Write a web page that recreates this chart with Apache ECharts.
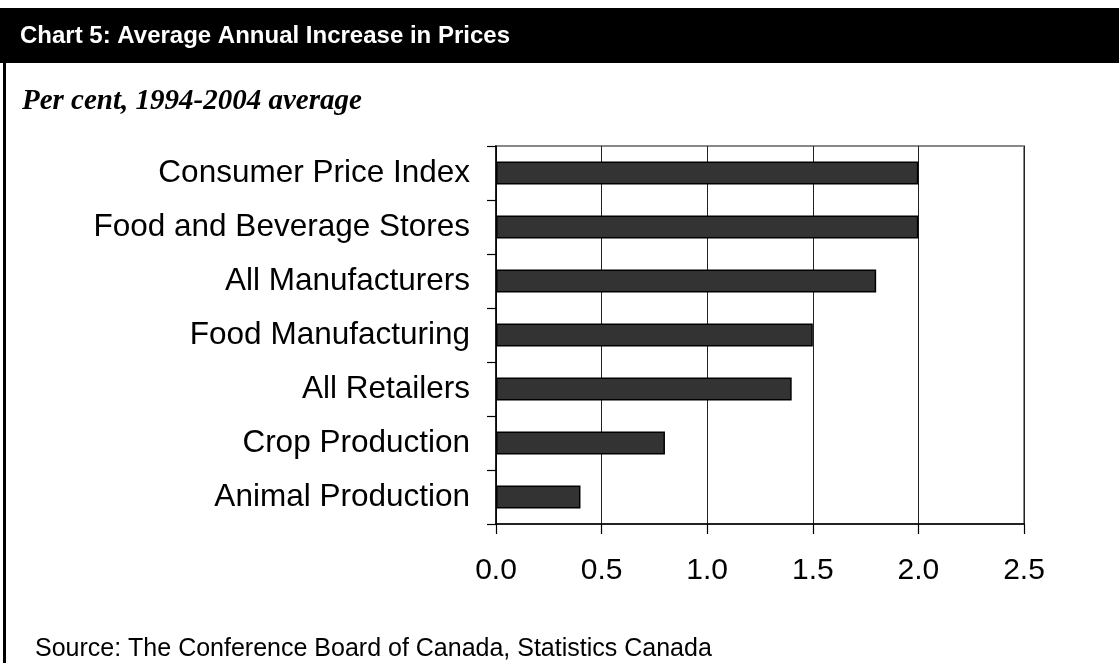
<!DOCTYPE html>
<html>
<head>
<meta charset="utf-8">
<script src="https://cdn.jsdelivr.net/npm/echarts@6/dist/echarts.min.js"></script>
<style>
  html, body { margin: 0; padding: 0; background: #fff; }
  #chart { width: 1119px; height: 663px; }
</style>
</head>
<body>
<div id="chart"></div>
<script>
// Average annual price increase, per cent, 1994-2004
const categories = [
  'Consumer Price Index',
  'Food and Beverage Stores',
  'All Manufacturers',
  'Food Manufacturing',
  'All Retailers',
  'Crop Production',
  'Animal Production'
];
const values = [2.0, 2.0, 1.8, 1.5, 1.4, 0.8, 0.4];
const axisMin = 0;
const axisMax = 2.5;
const axisStep = 0.5;

const chart = echarts.init(document.getElementById('chart'), null, { renderer: 'canvas' });

chart.setOption({
  backgroundColor: '#ffffff',
  animation: false,
  graphic: [
    // title band
    { type: 'rect', left: 0, top: 8, shape: { width: 1119, height: 55 }, style: { fill: '#000' }, z: 0 },
    { type: 'text', left: 20, top: 24, style: { text: 'Chart 5: Average Annual Increase in Prices', fill: '#fff', font: 'bold 24px "Liberation Sans", Arial, sans-serif' } },
    // left frame line
    { type: 'rect', left: 3, top: 62, shape: { width: 3, height: 601 }, style: { fill: '#000' } },
    { type: 'text', left: 22, top: 87, style: { text: 'Per cent, 1994-2004 average', fill: '#000', font: 'italic bold 29px "Liberation Serif", "Times New Roman", serif' } },
    { type: 'text', left: 35, top: 637, style: { text: 'Source: The Conference Board of Canada, Statistics Canada', fill: '#000', font: '25px "Liberation Sans", Arial, sans-serif' } }
  ],
  grid: {
    left: 496, right: 95, top: 146, bottom: 139,
    show: true, borderColor: '#888', borderWidth: 2, backgroundColor: 'transparent'
  },
  xAxis: {
    type: 'value',
    min: axisMin, max: axisMax, interval: axisStep,
    axisLine: { show: true, lineStyle: { color: '#000', width: 1.5 } },
    axisTick: { show: true, inside: false, length: 10, lineStyle: { color: '#000', width: 1.2 } },
    splitLine: { show: true, lineStyle: { color: '#222', width: 1 } },
    axisLabel: {
      color: '#000', fontSize: 30, margin: 32,
      fontFamily: '"Liberation Sans", Arial, sans-serif',
      formatter: v => v.toFixed(1)
    }
  },
  yAxis: {
    type: 'category',
    data: categories,
    inverse: true,
    axisLine: { show: true, lineStyle: { color: '#000', width: 1.5 } },
    axisTick: { show: true, inside: false, length: 9, lineStyle: { color: '#000', width: 1.2 } },
    axisLabel: {
      color: '#000', fontSize: 31.5, margin: 26,
      fontFamily: '"Liberation Sans", Arial, sans-serif'
    }
  },
  series: [{
    type: 'bar',
    data: values,
    barWidth: 23,
    itemStyle: { color: '#333333', borderColor: '#000', borderWidth: 1.5 }
  }]
});
</script>
</body>
</html>
